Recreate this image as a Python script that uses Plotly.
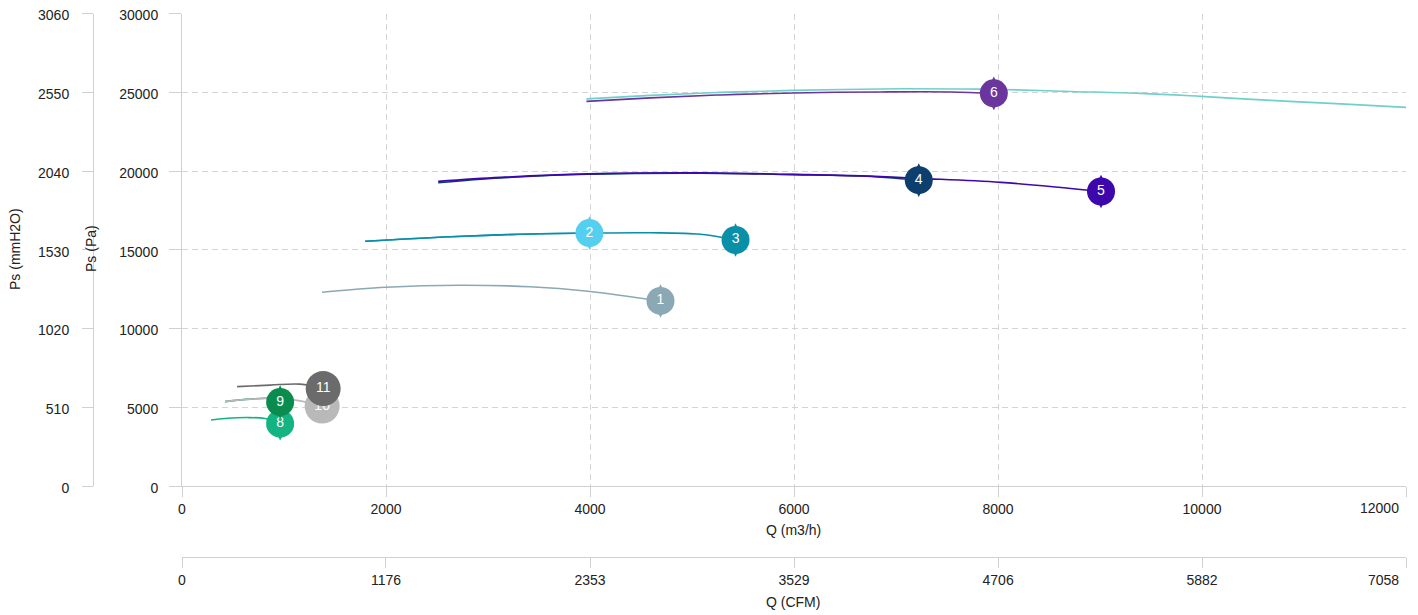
import plotly.graph_objects as go

# ---------------- data ----------------
q_ticks = [0, 2000, 4000, 6000, 8000, 10000, 12000]
pa_ticks = [0, 5000, 10000, 15000, 20000, 25000, 30000]
mmh2o_ticks = [0, 510, 1020, 1530, 2040, 2550, 3060]
cfm_ticks = [0, 1176, 2353, 3529, 4706, 5882, 7058]

q1 = [1373, 2000, 2725, 3412, 3980, 4691]
p1 = [12304, 12621, 12748, 12653, 12368, 11750]

q2 = [1796, 2630, 3317, 3994]
p2 = [15539, 15824, 15983, 16060]

q3 = [1796, 2630, 3317, 3994, 4593, 5083, 5427]
p3 = [15539, 15824, 15983, 16060, 16078, 15983, 15620]

q4 = [2512, 3121, 3984, 5083, 5996, 6654, 7223]
p4 = [19260, 19560, 19790, 19860, 19770, 19680, 19420]

q5 = [2512, 3121, 3984, 5083, 5996, 6654, 7223, 8027, 9010]
p5 = [19344, 19598, 19820, 19884, 19788, 19693, 19534, 19280, 18700]

q6 = [3965, 4593, 5280, 5996, 6850, 7537, 7959]
p6 = [24418, 24640, 24830, 24957, 25020, 25020, 24930]

q7 = [3965, 4593, 5280, 5996, 6850, 7635, 8028, 8714, 9401, 9990, 10677, 11364, 12000]
p7 = [24577, 24799, 24989, 25116, 25211, 25211, 25179, 25052, 24926, 24736, 24482, 24260, 24038]

q8 = [285, 422, 638, 815, 962]
p8 = [4186, 4281, 4345, 4281, 3960]

q9 = [422, 667, 864, 962]
p9 = [5359, 5518, 5550, 5328]

q10 = [422, 667, 864, 1109, 1374]
p10 = [5359, 5518, 5550, 5454, 5074]

q11 = [540, 864, 1158, 1384]
p11 = [6311, 6406, 6469, 6184]

curve_labels = ["1", "2", "3", "4", "5", "6", "7", "8", "9", "10", "11"]
curve_colors = ["#8aa9b5", "#55cff0", "#0a8fa8", "#0c3f6e", "#3d07ab", "#6a359c",
                "#6fd0cb", "#13b382", "#0b8c4f", "#b9b9b9", "#6b6b6b"]
line_colors = ["#8aa9b5", "#1596b0", "#0a8fa8", "#0c3f6e", "#3d07ab", "#6a359c",
               "#6fd0cb", "#13b382", "#0b8c4f", "#b9b9b9", "#6b6b6b"]
curve_q = [q1, q2, q3, q4, q5, q6, q7, q8, q9, q10, q11]
curve_p = [p1, p2, p3, p4, p5, p6, p7, p8, p9, p10, p11]
has_marker = [True, True, True, True, True, True, False, True, True, True, True]

# ---------------- layout geometry ----------------
OFF = 8                      # default page body margin
W, H = 1418 - OFF, 615 - OFF
px_left, px_right = 182 - OFF, 1406 - OFF
px_top, px_bottom = 13.5 - OFF, 486 - OFF
GRID = "#d4d4d4"
AXIS = "#d0d0d0"
FONT = "Liberation Sans, Arial, sans-serif"
TXT = "#222222"

fig = go.Figure()

# curves
for lab, q, p, col in zip(curve_labels, curve_q, curve_p, line_colors):
    fig.add_trace(go.Scatter(
        x=q, y=p, mode="lines", name=lab,
        line=dict(color=col, width=1.6, shape="spline", smoothing=1.0),
        showlegend=False, hoverinfo="x+y"))

# end markers (pin-like: pointed diamond behind a circle)
for lab, q, p, col, hm in zip(curve_labels, curve_q, curve_p, curve_colors, has_marker):
    if not hm:
        continue
    two = len(lab) > 1
    if not two:
        fig.add_trace(go.Scatter(
            x=[q[-1]], y=[p[-1]], mode="markers",
            marker=dict(symbol="diamond-tall", size=24, color=col, line=dict(width=0)),
            showlegend=False, hoverinfo="skip"))
    fig.add_trace(go.Scatter(
        x=[q[-1]], y=[p[-1]], mode="markers+text", text=[lab],
        textposition="middle center",
        textfont=dict(color="white", size=14, family=FONT),
        marker=dict(symbol="circle", size=35 if two else 28, color=col, line=dict(width=0)),
        showlegend=False, hoverinfo="skip"))

# dummy trace to register secondary axes
fig.add_trace(go.Scatter(x=[0], y=[0], xaxis="x2", yaxis="y2", mode="markers",
                         marker=dict(opacity=0), showlegend=False, hoverinfo="skip"))

xdom = [px_left / W, px_right / W]
ydom = [(H - px_bottom) / H, (H - px_top) / H]

tickfont = dict(family=FONT, size=14, color=TXT)

def ypos(py):
    return (H - (py - OFF)) / H

def xpos(px):
    return (px - OFF) / W

common = dict(zeroline=False, showline=True, linecolor=AXIS, linewidth=1,
              ticks="outside", tickcolor=AXIS, tickfont=tickfont,
              automargin=False, ticklabeloverflow="allow")

# the last label of each horizontal axis is drawn right-aligned inside the chart
q_text = [str(t) for t in q_ticks[:-1]] + [""]
cfm_text = [str(t) for t in cfm_ticks[:-1]] + [""]

title_font = dict(family=FONT, size=14, color=TXT)

fig.update_layout(
    width=W, height=H,
    margin=dict(l=0, r=0, t=0, b=0),
    paper_bgcolor="white", plot_bgcolor="white",
    font=dict(family=FONT, size=14, color=TXT),
    xaxis=dict(domain=xdom, range=[0, 12000], tickvals=q_ticks,
               ticktext=q_text, anchor="y",
               showgrid=True, gridcolor=GRID, griddash="6px,4px", gridwidth=1,
               ticklen=10, **common),
    yaxis=dict(domain=ydom, range=[0, 30000], tickvals=pa_ticks,
               ticktext=[str(t) for t in pa_ticks], anchor="x",
               showgrid=True, gridcolor=GRID, griddash="6px,4px", gridwidth=1,
               ticklen=12, ticklabelstandoff=8, ticklabelshift=2, **common),
    xaxis2=dict(overlaying="x", anchor="free", position=ypos(557), side="bottom",
                range=[0, cfm_ticks[-1]], tickvals=cfm_ticks,
                ticktext=cfm_text,
                showgrid=False, ticklen=10, **common),
    yaxis2=dict(overlaying="y", anchor="free", position=xpos(93), side="left",
                range=[0, mmh2o_ticks[-1]], tickvals=mmh2o_ticks,
                ticktext=[str(t) for t in mmh2o_ticks],
                showgrid=False, ticklen=11, ticklabelstandoff=10, ticklabelshift=2,
                **common),
    annotations=[
        dict(text=str(q_ticks[-1]), x=q_ticks[-1], xref="x", y=ypos(508), yref="paper",
             xanchor="right", yanchor="middle", xshift=-5, showarrow=False, font=tickfont),
        dict(text=str(cfm_ticks[-1]), x=cfm_ticks[-1], xref="x2", y=ypos(580), yref="paper",
             xanchor="right", yanchor="middle", xshift=-5, showarrow=False, font=tickfont),
        dict(text="Q (m3/h)", x=xpos(793), y=ypos(530),
             xref="paper", yref="paper", showarrow=False, xanchor="center", yanchor="middle",
             font=title_font),
        dict(text="Q (CFM)", x=xpos(793), y=ypos(602),
             xref="paper", yref="paper", showarrow=False, xanchor="center", yanchor="middle",
             font=title_font),
        dict(text="Ps (mmH2O)", x=xpos(15), y=ypos(249), textangle=-90,
             xref="paper", yref="paper", showarrow=False, xanchor="center", yanchor="middle",
             font=title_font),
        dict(text="Ps (Pa)", x=xpos(91), y=ypos(249), textangle=-90,
             xref="paper", yref="paper", showarrow=False, xanchor="center", yanchor="middle",
             font=title_font),
    ],
)

fig.write_html("out.html", config={"displayModeBar": False})
